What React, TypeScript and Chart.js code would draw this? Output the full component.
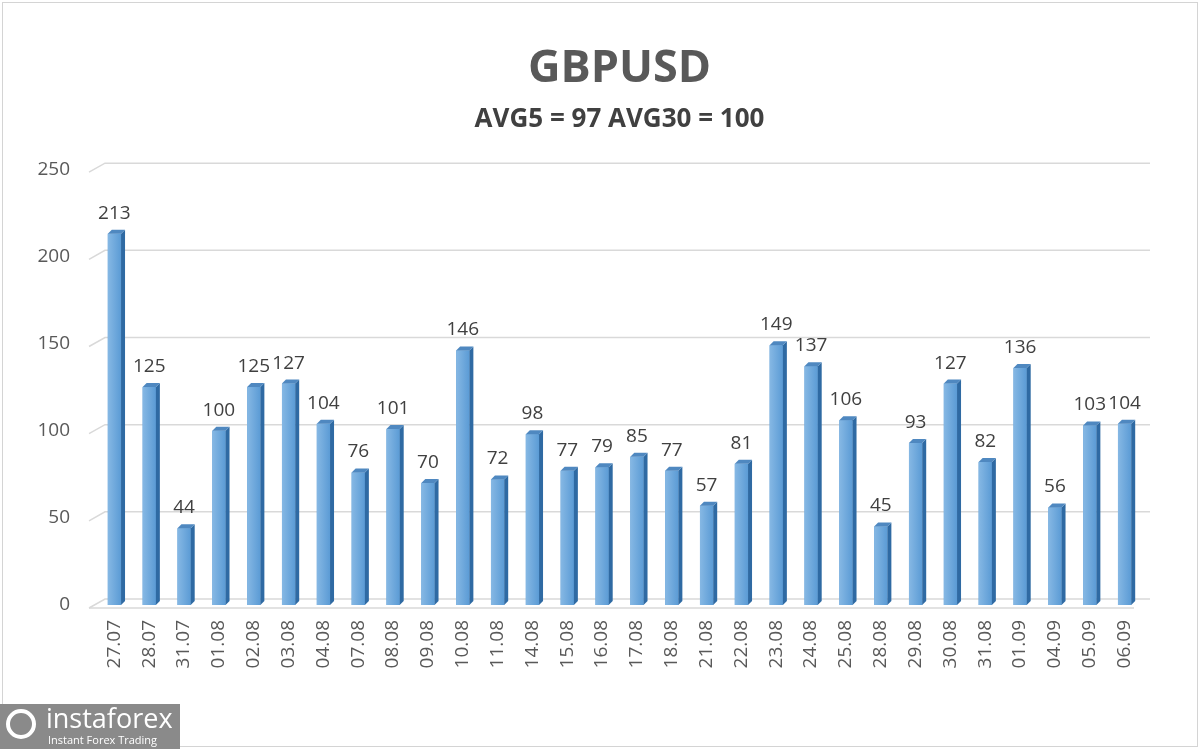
import React, { useEffect, useRef } from "react";
import { Chart, registerables } from "chart.js";

Chart.register(...registerables);

const categories = ["27.07","28.07","31.07","01.08","02.08","03.08","04.08","07.08","08.08","09.08","10.08","11.08","14.08","15.08","16.08","17.08","18.08","21.08","22.08","23.08","24.08","25.08","28.08","29.08","30.08","31.08","01.09","04.09","05.09","06.09"];
const values = [213,125,44,100,125,127,104,76,101,70,146,72,98,77,79,85,77,57,81,149,137,106,45,93,127,82,136,56,103,104];
const titleText = "GBPUSD";
const subtitleText = "AVG5 = 97 AVG30 = 100";
const yTicks = [0, 50, 100, 150, 200, 250];

const FONT = "'Open Sans', 'Liberation Sans', sans-serif";

const plugin3d = {
  id: "bars3d",
  beforeDatasetsDraw(chart: any) {
    const { ctx, chartArea, scales } = chart;
    const y = scales.y;
    ctx.save();
    ctx.strokeStyle = "#d9d9d9";
    ctx.lineWidth = 1.5;
    yTicks.forEach((v) => {
      const py = y.getPixelForValue(v);
      ctx.beginPath();
      ctx.moveTo(chartArea.left - 8, py + 3);
      ctx.lineTo(chartArea.left + 8, py - 6);
      ctx.lineTo(chartArea.right + 8, py - 6);
      ctx.stroke();
      if (v === 0) {
        ctx.beginPath();
        ctx.moveTo(chartArea.left - 8, py + 3);
        ctx.lineTo(chartArea.right - 8, py + 3);
        ctx.stroke();
      }
    });
    ctx.restore();
  },
  afterDatasetsDraw(chart: any) {
    const { ctx } = chart;
    const meta = chart.getDatasetMeta(0);
    ctx.save();
    meta.data.forEach((bar: any, i: number) => {
      const w = bar.width;
      const l = bar.x - w / 2;
      const r = bar.x + w / 2;
      const t = bar.y;
      const b = bar.base;
      const d = 4;
      const g = ctx.createLinearGradient(l, 0, r, 0);
      g.addColorStop(0, "#86b8e4");
      g.addColorStop(1, "#5b9bd5");
      ctx.fillStyle = g;
      ctx.fillRect(l, t, w, b - t);
      ctx.fillStyle = "#2f6aa3";
      ctx.beginPath();
      ctx.moveTo(r, t);
      ctx.lineTo(r + d, t - d);
      ctx.lineTo(r + d, b - d);
      ctx.lineTo(r, b);
      ctx.closePath();
      ctx.fill();
      ctx.fillStyle = "#4f88c0";
      ctx.beginPath();
      ctx.moveTo(l, t);
      ctx.lineTo(l + d, t - d);
      ctx.lineTo(r + d, t - d);
      ctx.lineTo(r, t);
      ctx.closePath();
      ctx.fill();
      ctx.fillStyle = "#404040";
      ctx.font = `19px ${FONT}`;
      ctx.textAlign = "center";
      ctx.textBaseline = "bottom";
      ctx.fillText(String(values[i]), bar.x, t - 11);
    });
    ctx.restore();
  },
};

export default function App() {
  const ref = useRef<HTMLCanvasElement>(null);
  useEffect(() => {
    const chart = new Chart(ref.current as HTMLCanvasElement, {
      type: "bar",
      data: {
        labels: categories,
        datasets: [
          {
            data: values,
            backgroundColor: "#5b9bd5",
            borderWidth: 0,
            barPercentage: 0.38,
            categoryPercentage: 1,
          },
        ],
      },
      plugins: [plugin3d],
      options: {
        animation: false,
        responsive: false,
        maintainAspectRatio: false,
        layout: { padding: { left: 0, right: 58, top: 0, bottom: 0 } },
        plugins: {
          legend: { display: false },
          tooltip: { enabled: false },
          title: {
            display: true,
            text: titleText,
            fullSize: false,
            color: "#595959",
            font: { family: FONT, size: 45, weight: "bold" },
            padding: { top: 42, bottom: 8 },
          },
          subtitle: {
            display: true,
            text: subtitleText,
            fullSize: false,
            color: "#404040",
            font: { family: FONT, size: 26, weight: "bold" },
            padding: { top: 0, bottom: 34 },
          },
        },
        scales: {
          y: {
            min: 0,
            max: 250,
            ticks: { stepSize: 50, color: "#595959", font: { family: FONT, size: 19 }, padding: 27 },
            grid: { display: false, drawTicks: false },
            border: { display: false },
            afterFit: (s: any) => { s.width = 97; },
          },
          x: {
            ticks: {
              color: "#595959",
              font: { family: FONT, size: 19 },
              maxRotation: 90,
              minRotation: 90,
              padding: 15,
              autoSkip: false,
            },
            grid: { display: false, drawTicks: false },
            border: { display: false },
            afterFit: (s: any) => { s.height = 144; },
          },
        },
      },
    } as any);
    return () => chart.destroy();
  }, []);
  return (
    <div style={{ position: "fixed", left: 0, top: 0, width: 1200, height: 749, background: "#fff", overflow: "hidden" }}>
      <div style={{ position: "absolute", left: 2, top: 2, width: 1194, height: 743, border: "1px solid #d4d4d4" }} />
      <canvas ref={ref} width={1200} height={749} style={{ position: "absolute", left: 0, top: 0 }} />
      <div style={{ position: "absolute", left: 0, top: 704, width: 180, height: 45, background: "#8a8a8a", color: "#fff", fontFamily: "'Open Sans', sans-serif" }}>
        <div style={{ position: "absolute", left: 6, top: 5, width: 30, height: 30, borderRadius: 15, border: "4px solid #fff", boxSizing: "border-box" }} />
        <div style={{ position: "absolute", left: 46, top: -3, fontSize: 27, lineHeight: "34px" }}>instaforex</div>
        <div style={{ position: "absolute", left: 48, top: 29, fontSize: 11, lineHeight: "13px" }}>Instant Forex Trading</div>
      </div>
    </div>
  );
}
